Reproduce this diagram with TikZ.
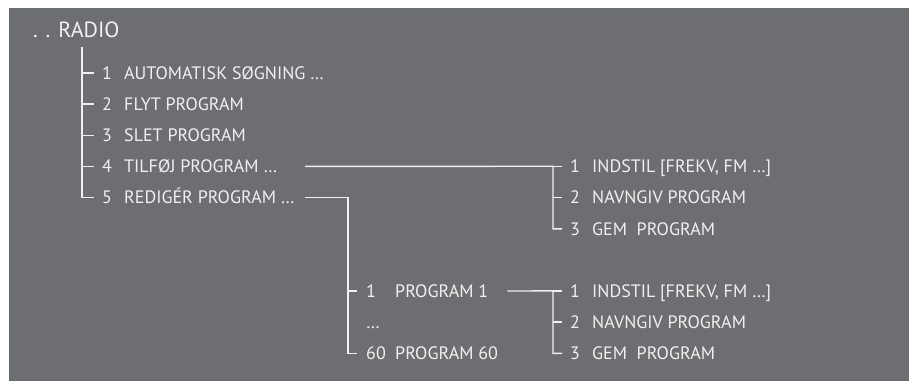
\documentclass[tikz,border=0pt]{standalone}
\usepackage{fontspec}
\setmainfont{PT Sans}
\definecolor{panelgray}{HTML}{6D6E71}
\definecolor{menutext}{HTML}{F0F0F0}
\tikzset{
  entry/.style={anchor=base west, inner sep=0pt, text=menutext, font=\fontsize{18}{18}\selectfont},
  title/.style={entry, font=\fontsize{22}{22}\selectfont},
  branch/.style={draw=menutext, line width=1.4pt},
}
\begin{document}
\begin{tikzpicture}[x=1pt, y=-1pt]
    \useasboundingbox (0,0) rectangle (909,381);

    % Draw background panel
    \fill[panelgray] (9,8) rectangle (909,381);

    % Add title
    \node[title] (radio) at (33,37) {. . RADIO};

    % Add main menu entries
    \node[entry] (m1) at (102,79.3) {1};
    \node[entry] (m1t) at (124,79.3) {AUTOMATISK SØGNING …};
    \node[entry] (m2) at (102,110.4) {2};
    \node[entry] (m2t) at (124,110.4) {FLYT PROGRAM};
    \node[entry] (m3) at (102,141.6) {3};
    \node[entry] (m3t) at (124,141.6) {SLET PROGRAM};
    \node[entry] (m4) at (102,172.7) {4};
    \node[entry] (m4t) at (124,172.7) {TILFØJ PROGRAM …};
    \node[entry] (m5) at (102,203.9) {5};
    \node[entry] (m5t) at (124,203.9) {REDIGÉR PROGRAM …};

    % Add entries below TILFØJ PROGRAM
    \node[entry] (a1) at (570,172.7) {1};
    \node[entry] (a1t) at (592,172.7) {INDSTIL [FREKV, FM …]};
    \node[entry] (a2) at (570,203.9) {2};
    \node[entry] (a2t) at (592,203.9) {NAVNGIV PROGRAM};
    \node[entry] (a3) at (570,235.0) {3};
    \node[entry] (a3t) at (592,235.0) {GEM\ \ PROGRAM};

    % Add entries below REDIGÉR PROGRAM
    \node[entry] (p1) at (366,297.3) {1};
    \node[entry] (p1t) at (395,297.3) {PROGRAM 1};
    \node[entry] (pdots) at (366,328.4) {…};
    \node[entry] (p60) at (366,359.6) {60};
    \node[entry] (p60t) at (395,359.6) {PROGRAM 60};

    % Add entries below PROGRAM 1
    \node[entry] (c1) at (570,297.3) {1};
    \node[entry] (c1t) at (592,297.3) {INDSTIL [FREKV, FM …]};
    \node[entry] (c2) at (570,328.4) {2};
    \node[entry] (c2t) at (592,328.4) {NAVNGIV PROGRAM};
    \node[entry] (c3) at (570,359.6) {3};
    \node[entry] (c3t) at (592,359.6) {GEM\ \ PROGRAM};

    % Trunk positions
    \coordinate (mtop) at (82,47);
    \coordinate (atrunk) at (553,0);
    \coordinate (ptrunk) at (348,0);
    \coordinate (join) at (305,0);

    % Draw main tree
    \draw[branch] (mtop) |- ([xshift=-8pt]m5.west);
    \draw[branch] (mtop |- m1.west) -- ([xshift=-8pt]m1.west);
    \draw[branch] (mtop |- m2.west) -- ([xshift=-8pt]m2.west);
    \draw[branch] (mtop |- m3.west) -- ([xshift=-8pt]m3.west);
    \draw[branch] (mtop |- m4.west) -- ([xshift=-8pt]m4.west);

    % Draw tree below TILFØJ PROGRAM
    \draw[branch] (join |- m4.west) -- (atrunk |- a1.west) |- ([xshift=-8pt]a3.west);
    \draw[branch] (atrunk |- a1.west) -- ([xshift=-8pt]a1.west);
    \draw[branch] (atrunk |- a2.west) -- ([xshift=-8pt]a2.west);

    % Draw tree below REDIGÉR PROGRAM
    \draw[branch] (join |- m5.west) -| (ptrunk |- p60.west) -- ([xshift=-9pt]p60.west);
    \draw[branch] (ptrunk |- p1.west) -- ([xshift=-9pt]p1.west);

    % Draw tree below PROGRAM 1
    \draw[branch] ([xshift=19pt]p1t.east) -- (atrunk |- c1.west) |- ([xshift=-8pt]c3.west);
    \draw[branch] (atrunk |- c1.west) -- ([xshift=-8pt]c1.west);
    \draw[branch] (atrunk |- c2.west) -- ([xshift=-8pt]c2.west);
\end{tikzpicture}
\end{document}
